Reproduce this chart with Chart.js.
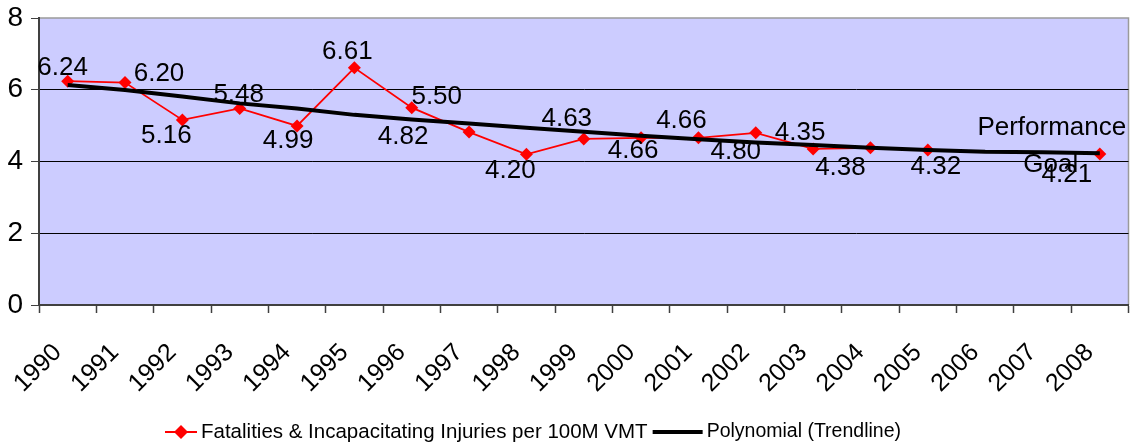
<!DOCTYPE html>
<html>
<head>
<meta charset="utf-8">
<script src="https://cdn.jsdelivr.net/npm/chart.js@4.4.0/dist/chart.umd.min.js"></script>
<style>
  html, body { margin: 0; padding: 0; background: #fff; }
  #wrap { width: 1135px; height: 447px; }
</style>
</head>
<body>
<div id="wrap"><canvas id="myChart" width="1135" height="447"></canvas></div>
<script>
// categories and values
var years = ['1990','1991','1992','1993','1994','1995','1996','1997','1998','1999',
             '2000','2001','2002','2003','2004','2005','2006','2007','2008'];
var rates = [6.24, 6.20, 5.16, 5.48, 4.99, 6.61, 5.50, 4.82, 4.20, 4.63,
             4.66, 4.66, 4.80, 4.35, 4.38, 4.32, null, null, 4.21];
var trend = [6.13, 5.99, 5.81, 5.62, 5.48, 5.30, 5.17, 5.06, 4.94, 4.83,
             4.72, 4.62, 4.53, 4.46, 4.38, 4.32, 4.27, 4.26, 4.23];
var yTicks = [0, 2, 4, 6, 8];
var rateName = 'Fatalities & Incapacitating Injuries per 100M VMT';
var trendName = 'Polynomial (Trendline)';
var goalNote = ['Performance', 'Goal'];

// where each value label sits relative to its point (dx, dy)
var labelOffsets = [[-5,-13],[34,-9],[-16,16],[-1,-14],[-9,15],[-7,-16],[25,-11],[-66,5],[-16,17],[-17,-20],
                    [-8,13],[-17,-17],[-20,19],[-13,-16],[-30,20],[8,17],null,null,[-33,21]];
var goalOffsets = [[-48,-26],[-49,11]];

var plotBack = {
  id: 'plotBack',
  beforeDraw: function(chart) {
    var a = chart.chartArea, c = chart.ctx;
    c.save();
    c.fillStyle = '#ccccff';
    c.fillRect(a.left, a.top, a.right - a.left, a.bottom - a.top);
    c.strokeStyle = '#9a9a9a';
    c.lineWidth = 1.5;
    c.beginPath();
    c.moveTo(a.left, a.top);
    c.lineTo(a.right, a.top);
    c.lineTo(a.right, a.bottom);
    c.stroke();
    c.restore();
  }
};

var valueLabels = {
  id: 'valueLabels',
  afterDatasetsDraw: function(chart) {
    var c = chart.ctx;
    var meta = chart.getDatasetMeta(1);
    c.save();
    c.font = '26px Arial, "Liberation Sans"';
    c.fillStyle = '#000';
    c.textAlign = 'center';
    c.textBaseline = 'middle';
    for (var i = 0; i < rates.length; i++) {
      if (rates[i] == null) continue;
      var p = meta.data[i];
      var o = labelOffsets[i];
      c.fillText(rates[i].toFixed(2), p.x + o[0], p.y + o[1]);
    }
    var last = meta.data[rates.length - 1];
    for (var j = 0; j < goalNote.length; j++) {
      c.fillText(goalNote[j], last.x + goalOffsets[j][0], last.y + goalOffsets[j][1]);
    }
    c.restore();
  }
};

var bottomLegend = {
  id: 'bottomLegend',
  afterDraw: function(chart) {
    var c = chart.ctx;
    var y = 432;
    var x = 165;
    c.save();
    c.font = '20.5px Arial, "Liberation Sans"';
    c.textBaseline = 'middle';
    // red series: line with diamond
    c.strokeStyle = '#ff0000';
    c.lineWidth = 2;
    c.beginPath(); c.moveTo(x, y); c.lineTo(x + 32, y); c.stroke();
    c.fillStyle = '#ff0000';
    c.beginPath();
    c.moveTo(x + 16, y - 7); c.lineTo(x + 23, y); c.lineTo(x + 16, y + 7); c.lineTo(x + 9, y);
    c.closePath(); c.fill();
    c.fillStyle = '#000';
    x += 36;
    c.fillText(rateName, x, y);
    x += c.measureText(rateName).width + 5;
    // trendline
    c.strokeStyle = '#000';
    c.lineWidth = 4;
    c.beginPath(); c.moveTo(x, y); c.lineTo(x + 50, y); c.stroke();
    x += 54;
    c.font = '19.5px Arial, "Liberation Sans"';
    c.fillText(trendName, x, y);
    c.restore();
  }
};

var ctx = document.getElementById('myChart').getContext('2d');
var chart = new Chart(ctx, {
  type: 'line',
  data: {
    labels: years,
    datasets: [{
      label: trendName,
      data: trend,
      borderColor: '#000',
      borderWidth: 4,
      pointRadius: 0,
      tension: 0,
      order: 0
    }, {
      label: rateName,
      data: rates,
      borderColor: '#ff0000',
      backgroundColor: '#ff0000',
      borderWidth: 1.8,
      pointStyle: 'rectRot',
      pointRadius: 6.5,
      pointBorderWidth: 0,
      tension: 0,
      spanGaps: false,
      order: 1
    }]
  },
  options: {
    responsive: false,
    animation: false,
    layout: { padding: { top: 18, right: 3, left: 0, bottom: 0 } },
    plugins: { legend: { display: false }, tooltip: { enabled: false } },
    scales: {
      x: {
        offset: true,
        grid: { offset: true, drawOnChartArea: false, tickLength: 8, tickColor: '#404040', tickWidth: 1.5 },
        border: { color: '#404040', width: 2 },
        ticks: {
          autoSkip: false, minRotation: 45, maxRotation: 45, padding: 25, labelOffset: -10,
          color: '#000', font: { family: 'Arial, "Liberation Sans"', size: 25 }
        },
        afterFit: function(s) { s.height = 142; s.paddingLeft = 0; s.paddingRight = 0; }
      },
      y: {
        min: 0, max: 8,
        afterBuildTicks: function(s) { s.ticks = yTicks.map(function(v) { return { value: v }; }); },
        grid: {
          color: function(c) { return (c.tick && c.tick.value > 0 && c.tick.value < 8) ? '#000' : 'rgba(0,0,0,0)'; },
          tickColor: '#404040', tickLength: 8, lineWidth: 1
        },
        border: { color: '#404040', width: 2 },
        ticks: { padding: 8, color: '#000', font: { family: 'Arial, "Liberation Sans"', size: 28 } },
        afterFit: function(s) { s.width = 39; s.paddingTop = 0; s.paddingBottom = 0; }
      }
    }
  },
  plugins: [plotBack, valueLabels, bottomLegend]
});
</script>
</body>
</html>
